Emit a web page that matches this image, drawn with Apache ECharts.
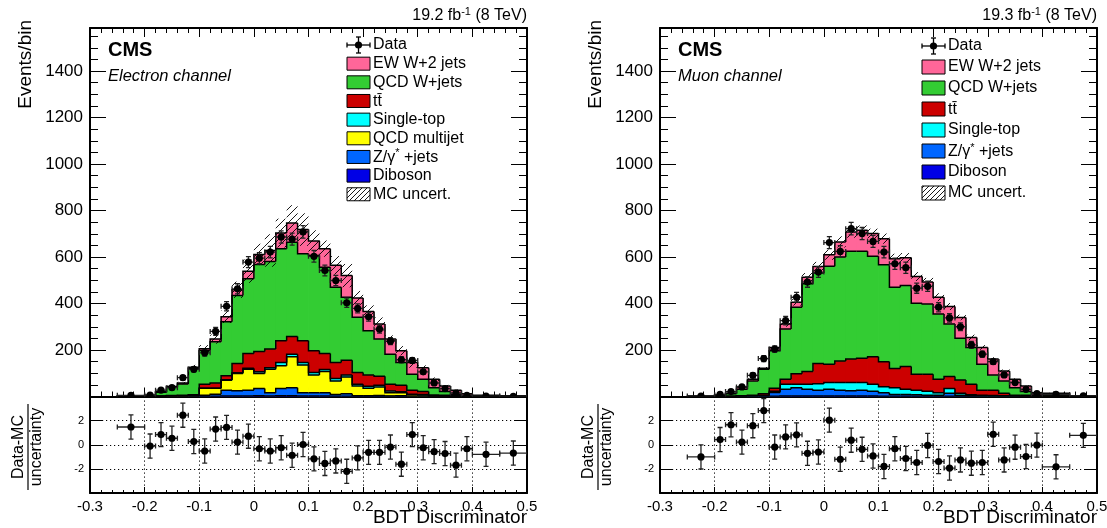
<!DOCTYPE html>
<html><head><meta charset="utf-8">
<script src="https://cdn.jsdelivr.net/npm/echarts@6/dist/echarts.min.js"></script>
<style>html,body{margin:0;padding:0;background:#fff}#c{width:1107px;height:528px}</style>
</head><body><div id="c"></div>
<script>
// ---------------- DATA ----------------
const binEdges = [-0.25,-0.20,-0.18,-0.16,-0.14,-0.12,-0.10,-0.08,-0.06,-0.04,-0.02,0.00,0.02,0.04,0.06,0.08,0.10,0.12,0.14,0.16,0.18,0.20,0.22,0.24,0.26,0.28,0.30,0.32,0.34,0.36,0.38,0.40,0.45,0.50];
const xTickLabels = ['-0.3','-0.2','-0.1','0','0.1','0.2','0.3','0.4','0.5'];

// Electron channel (events per bin)
const elDiboson   = [0,0,0,0,0,0,1,1,2,2,2,3,2,3,3,2,2,2,1,1,1,1,1,1,1,0,0,0,0,0,0,0,0];
const elZjets     = [0,0,0,1,1,2,4,9,25,23,25,31,14,31,35,14,14,14,8,11,2,2,3,1,2,1,1,0,0,0,0,0,0];
const elQCDmj     = [0,0,1,2,2,2,30,25,43,74,90,65,101,98,133,120,77,91,58,72,42,32,37,14,13,7,5,1,1,0,0,0,0];
const elSingleTop = [0,0,0,0,0,0,1,1,2,3,5,7,7,14,11,10,10,9,10,9,8,9,7,8,4,2,3,1,0,1,0,0,0];
const elTTbar     = [0,0,0,1,2,3,17,22,17,40,63,88,80,94,76,94,94,69,69,63,50,49,39,29,28,17,12,4,4,2,2,1,0];
const elWjets     = [2,4,17,36,49,113,145,177,233,292,321,374,377,396,406,374,410,371,324,271,238,190,160,129,98,69,53,32,16,6,2,1,1];
const elEW        = [1,1,2,3,4,6,7,12,21,25,33,43,47,67,82,104,62,80,94,93,83,83,65,65,51,50,50,36,24,18,8,3,1];
const elUnc       = [1,1,3,4,5,10,16,20,27,35,50,46,70,62,77,70,46,35,40,50,30,26,28,16,20,22,10,8,5,3,2,1,1];
const elData      = [5,6,27,38,81,117,188,280,388,463,578,595,621,686,677,708,603,542,499,403,379,343,290,238,158,155,106,58,34,15,5,2,1];
const elDataErr   = [2,2,5,6,9,11,14,17,20,22,24,24,25,26,26,27,25,23,22,20,19,19,17,15,13,12,10,8,6,4,2,1,1];
const elPull      = [1.47,-0.11,0.84,0.54,2.45,0.27,-0.52,1.3,1.44,0.22,0.71,-0.33,-0.52,-0.25,-0.87,0.02,-1.17,-1.55,-1.34,-2.2,-1.09,-0.63,-0.63,-0.19,-1.61,0.84,-0.25,-0.57,-0.73,-1.69,-0.33,-0.79,-0.69];
const elPullErr   = [1,1,1,1,1,1,1,1,1,1,1,1,1,1,1,1,1,1,1,1,1,1,1,1,1,1,1,1,1,1,1,1,1];

// Muon channel
const muDiboson   = [0,0,0,0,0,0,1,2,2,2,2,2,2,2,2,2,1,1,1,1,1,1,1,1,0,0,0,0,0,0,0,0,0];
const muZjets     = [0,0,0,1,2,3,16,29,36,29,25,29,25,23,25,21,15,8,8,6,4,4,13,4,3,2,2,1,1,0,0,0,0];
const muSingleTop = [0,0,0,1,1,2,6,22,15,22,28,29,33,35,33,30,26,29,22,20,18,11,20,9,4,3,2,2,1,1,1,0,0];
const muTTbar     = [0,0,1,1,2,7,12,21,45,54,87,79,93,101,105,118,108,82,98,69,73,58,52,57,46,22,23,11,3,4,1,1,0];
const muWjets     = [0,6,11,28,62,105,162,216,286,378,389,421,447,464,460,432,417,350,348,305,302,281,226,180,158,112,66,53,33,16,4,5,1];
const muEW        = [1,1,2,10,7,5,14,22,21,28,28,50,65,83,90,98,112,123,120,115,94,72,75,89,43,72,68,43,36,24,10,8,1];
const muUnc       = [1,1,2,3,4,5,8,12,14,18,20,22,24,25,21,21,22,21,20,19,18,17,15,12,12,10,8,6,4,3,2,2,1];
const muData      = [2,9,21,41,91,163,204,326,427,492,535,662,624,722,701,667,621,571,554,466,474,384,338,300,222,182,150,93,60,31,12,9,3];
const muDataErr   = [1,3,5,6,10,13,14,18,21,22,23,26,25,27,26,26,25,24,24,22,22,20,18,17,15,13,12,10,8,6,3,3,2];
const muPull      = [-1.01,0.43,1.66,0.22,1.58,2.83,-0.19,0.65,0.82,-0.71,-0.6,2.04,-1.2,0.38,-0.38,-0.93,-1.8,-0.33,-1.14,-1.47,-0.06,-1.39,-1.93,-1.26,-1.53,-1.47,0.87,-1.26,-0.2,-0.98,-0.03,-1.83,0.78];
const muPullErr   = [1,1,1,1,1,1,1,1,1,1,1,1,1,1,1,1,1,1,1,1,1,1,1,1,1,1,1,1,1,1,1,1,1];

const legendLabelsEl = ['Data','EW W+2 jets','QCD W+jets','{a|tt\u0304}','Single-top','QCD multijet','{a|Z/\u03b3}{s|*}{a| +jets}','Diboson','MC uncert.'];
const legendLabelsMu = ['Data','EW W+2 jets','QCD W+jets','{a|tt\u0304}','Single-top','{a|Z/\u03b3}{s|*}{a| +jets}','Diboson','MC uncert.'];
const channelNames = ['Electron channel','Muon channel'];
const lumiTexts = ['19.2','19.3'];

// ---------------- STYLE ----------------
const FONT = "'Liberation Sans', Arial, Helvetica, sans-serif";
const COL = {dib:'#0000e6', z:'#0066ff', qcd:'#ffff00', st:'#00ffff', tt:'#cc0000', wj:'#33cc33', ew:'#ff6699'};
const nb = binEdges.length - 1;

const channels = [
  {layers:[[elDiboson,COL.dib],[elZjets,COL.z],[elQCDmj,COL.qcd],[elSingleTop,COL.st],[elTTbar,COL.tt],[elWjets,COL.wj],[elEW,COL.ew]],
   unc: elUnc, data: elData, err: elDataErr, pull: elPull, pullErr: elPullErr,
   legend: legendLabelsEl, legendColors:[null,COL.ew,COL.wj,COL.tt,COL.st,COL.qcd,COL.z,COL.dib,'hatch'],
   left: 90, legX: 347, legY: 45, legDy: 18.66, legH: 13},
  {layers:[[muDiboson,COL.dib],[muZjets,COL.z],[muSingleTop,COL.st],[muTTbar,COL.tt],[muWjets,COL.wj],[muEW,COL.ew]],
   unc: muUnc, data: muData, err: muDataErr, pull: muPull, pullErr: muPullErr,
   legend: legendLabelsMu, legendColors:[null,COL.ew,COL.wj,COL.tt,COL.st,COL.z,COL.dib,'hatch'],
   left: 660, legX: 922, legY: 46, legDy: 21, legH: 14}
];

const W = 437, TOP = 28, MAINH = 368.5, RTOP = 396.5, RH = 96.5;

const grids = [], xAxes = [], yAxes = [], series = [], graphics = [];

function hatchLines(x0, y0, x1, y1, s, lw) {
  const out = [];
  const cStart = Math.ceil((x0 + y0) / s) * s;
  for (let c = cStart; c <= x1 + y1; c += s) {
    const xa = Math.max(x0, c - y1), xb = Math.min(x1, c - y0);
    if (xb > xa) out.push({type:'line', shape:{x1:xa, y1:c - xa, x2:xb, y2:c - xb}, style:{stroke:'#000', lineWidth:lw}});
  }
  return out;
}

function tickFmt(v) {
  const r = Math.round(v * 10) / 10;
  return r === 0 ? '0' : String(r);
}

channels.forEach((ch, p) => {
  const gm = 2 * p, gr = 2 * p + 1;
  grids.push({left: ch.left, top: TOP, width: W, height: MAINH, containLabel:false, outerBoundsMode:'none'});
  grids.push({left: ch.left, top: RTOP, width: W, height: RH, containLabel:false, outerBoundsMode:'none'});
  const axLine = {show:true, onZero:false, lineStyle:{color:'#000', width:2}};
  [ 'bottom', 'top' ].forEach(pos => xAxes.push({
    type:'value', gridIndex: gm, position: pos, min:-0.3, max:0.5, interval:0.1,
    axisLine: axLine, axisLabel:{show:false}, splitLine:{show:false},
    axisTick:{show:true, inside:true, length:9, lineStyle:{color:'#000', width:1}},
    minorTick:{show:true, splitNumber:5, length:5, lineStyle:{color:'#000', width:1}}
  }));
  xAxes.push({
    type:'value', gridIndex: gr, position:'bottom', min:-0.3, max:0.5, interval:0.1,
    axisLine: axLine,
    axisLabel:{show:true, fontFamily:FONT, fontSize:15, color:'#000', margin:6, formatter: v => { const r = Math.round((v + 0.3) * 10); return xTickLabels[r] !== undefined ? xTickLabels[r] : tickFmt(v); }},
    splitLine:{show:true, lineStyle:{color:'#000', type:[1.2,2.8], width:1}},
    axisTick:{show:true, inside:true, length:6, lineStyle:{color:'#000', width:1}},
    minorTick:{show:true, splitNumber:5, length:3, lineStyle:{color:'#000', width:1}}
  });
  xAxes.push({
    type:'value', gridIndex: gr, position:'top', min:-0.3, max:0.5, interval:0.1,
    axisLine: axLine, axisLabel:{show:false}, splitLine:{show:false}, axisTick:{show:false}
  });
  ['left','right'].forEach(pos => yAxes.push({
    type:'value', gridIndex: gm, position: pos, min:0, max:1585, interval:200,
    axisLine: axLine,
    axisLabel:{show: pos === 'left', fontFamily:FONT, fontSize:17, color:'#000', margin:7, showMaxLabel:false,
      formatter: v => (v > 0 && v <= 1400 && v % 200 === 0) ? String(v) : ''},
    splitLine:{show:false},
    axisTick:{show:true, inside:true, length:16, lineStyle:{color:'#000', width:1}},
    minorTick:{show:true, splitNumber:4, length:8, lineStyle:{color:'#000', width:1}}
  }));
  ['left','right'].forEach(pos => yAxes.push({
    type:'value', gridIndex: gr, position: pos, min:-4, max:4, interval:2,
    axisLine: axLine,
    axisLabel:{show: pos === 'left', fontFamily:FONT, fontSize:11, color:'#000', margin:6,
      formatter: v => (Math.abs(v) === 2 || v === 0) ? String(v) : ''},
    splitLine:{show: pos === 'left', lineStyle:{color:'#000', type:[1.2,2.8], width:1}},
    axisTick:{show:true, inside:true, length:12, lineStyle:{color:'#000', width:1}}
  }));

  const xi = 2 * gm, yi = 2 * gm, xr = 2 * gr, yr = 2 * gr;

  const cum = new Array(nb).fill(0);
  ch.layers.forEach(([arr, color]) => {
    const rows = []; let prevTop = 0;
    for (let i = 0; i < nb; i++) {
      const bot = cum[i], top = bot + arr[i];
      rows.push([binEdges[i], binEdges[i + 1], bot, top, prevTop]);
      prevTop = top; cum[i] = top;
    }
    series.push({
      type:'custom', xAxisIndex: xi, yAxisIndex: yi, clip:true, z:2, silent:true,
      data: rows, encode:{x:[0,1], y:[2,3]},
      renderItem: (params, api) => {
        const xlo = api.value(0), xhi = api.value(1), bot = api.value(2), top = api.value(3), prev = api.value(4);
        const a = api.coord([xlo, top]), b = api.coord([xhi, bot]), c = api.coord([xlo, prev]);
        const children = [];
        if (b[1] - a[1] > 0.05) children.push({type:'rect', z2:1, shape:{x:a[0] - 0.4, y:a[1], width:b[0] - a[0] + 0.8, height:b[1] - a[1] + 0.3}, style:{fill:color}});
        children.push({type:'polyline', z2:10, shape:{points:[[c[0], c[1]], [a[0], a[1]], [b[0], a[1]]]}, style:{stroke:'#000', lineWidth:1.5, fill:null}});
        return {type:'group', children};
      }
    });
  });
  const hrows = [];
  for (let i = 0; i < nb; i++) hrows.push([binEdges[i], binEdges[i + 1], Math.max(0, cum[i] - ch.unc[i]), cum[i] + ch.unc[i]]);
  series.push({
    type:'custom', xAxisIndex: xi, yAxisIndex: yi, clip:true, z:3, silent:true,
    data: hrows, encode:{x:[0,1], y:[2,3]},
    renderItem: (params, api) => {
      const a = api.coord([api.value(0), api.value(3)]), b = api.coord([api.value(1), api.value(2)]);
      return {type:'group', children: hatchLines(a[0], a[1], b[0], b[1], 7, 0.9)};
    }
  });
  function pointSeries(vals, errs, xIdx, yIdx) {
    const rows = [];
    for (let i = 0; i < nb; i++) rows.push([(binEdges[i] + binEdges[i + 1]) / 2, vals[i], binEdges[i], binEdges[i + 1], errs[i]]);
    return {
      type:'custom', xAxisIndex: xIdx, yAxisIndex: yIdx, clip:true, z:5, silent:true,
      data: rows, encode:{x:[0,2,3], y:1},
      renderItem: (params, api) => {
        const xc = api.value(0), y = api.value(1), xlo = api.value(2), xhi = api.value(3), e = api.value(4);
        const pc = api.coord([xc, y]), l = api.coord([xlo, y]), r = api.coord([xhi, y]);
        const t = api.coord([xc, y + e]), bo = api.coord([xc, y - e]);
        const st = {stroke:'#222', lineWidth:1.3};
        const cap = 2.5;
        return {type:'group', children:[
          {type:'line', shape:{x1:l[0], y1:pc[1], x2:r[0], y2:pc[1]}, style:st},
          {type:'line', shape:{x1:pc[0], y1:t[1], x2:pc[0], y2:bo[1]}, style:st},
          {type:'line', shape:{x1:l[0], y1:pc[1] - cap, x2:l[0], y2:pc[1] + cap}, style:st},
          {type:'line', shape:{x1:r[0], y1:pc[1] - cap, x2:r[0], y2:pc[1] + cap}, style:st},
          {type:'line', shape:{x1:pc[0] - cap, y1:t[1], x2:pc[0] + cap, y2:t[1]}, style:st},
          {type:'line', shape:{x1:pc[0] - cap, y1:bo[1], x2:pc[0] + cap, y2:bo[1]}, style:st},
          {type:'circle', shape:{cx:pc[0], cy:pc[1], r:3.6}, style:{fill:'#000'}}
        ]};
      }
    };
  }
  series.push(pointSeries(ch.data, ch.err, xi, yi));
  series.push(pointSeries(ch.pull, ch.pullErr, xr, yr));

  const L = ch.left, R = ch.left + W;
  graphics.push({type:'text', x:R, y:15, style:{text:'{a|' + lumiTexts[p] + ' fb}{s|-1}{a| (8 TeV)}', align:'right', verticalAlign:'middle',
    rich:{a:{fontFamily:FONT, fontSize:16, fill:'#000', verticalAlign:'bottom', lineHeight:18}, s:{fontFamily:FONT, fontSize:11, fill:'#000', verticalAlign:'top', lineHeight:18}}}});
  graphics.push({type:'text', x:L + 18, y:50, style:{text:'CMS', font:'bold 20px ' + FONT, fill:'#000', verticalAlign:'middle'}});
  graphics.push({type:'text', x:L + 18, y:76, style:{text:channelNames[p], font:'italic 16.5px ' + FONT, fill:'#000', verticalAlign:'middle'}});
  graphics.push({type:'text', x:L - 64, y:20, rotation:Math.PI / 2, style:{text:'Events/bin', font:'19px ' + FONT, fill:'#000', align:'right', verticalAlign:'middle'}});
  graphics.push({type:'text', x:L - 71, y:447, rotation:Math.PI / 2, style:{text:'Data-MC', font:'16px ' + FONT, fill:'#000', align:'center', verticalAlign:'middle'}});
  graphics.push({type:'line', shape:{x1:L - 62, y1:404, x2:L - 62, y2:490}, style:{stroke:'#000', lineWidth:1.2}});
  graphics.push({type:'text', x:L - 53, y:447, rotation:Math.PI / 2, style:{text:'uncertainty', font:'16px ' + FONT, fill:'#000', align:'center', verticalAlign:'middle'}});
  graphics.push({type:'text', x:R, y:518, style:{text:'BDT Discriminator', font:'19px ' + FONT, fill:'#000', align:'right', verticalAlign:'middle'}});

  const bw = 23, bh = ch.legH;
  ch.legend.forEach((lab, i) => {
    const yc = ch.legY + ch.legDy * i;
    const x0 = ch.legX;
    const kind = ch.legendColors[i];
    if (kind === null) {
      const cx = x0 + bw / 2;
      const st = {stroke:'#000', lineWidth:1.3};
      graphics.push({type:'line', shape:{x1:x0, y1:yc, x2:x0 + bw, y2:yc}, style:st});
      graphics.push({type:'line', shape:{x1:cx, y1:yc - 8, x2:cx, y2:yc + 8}, style:st});
      graphics.push({type:'line', shape:{x1:cx - 2.5, y1:yc - 8, x2:cx + 2.5, y2:yc - 8}, style:st});
      graphics.push({type:'line', shape:{x1:cx - 2.5, y1:yc + 8, x2:cx + 2.5, y2:yc + 8}, style:st});
      graphics.push({type:'line', shape:{x1:x0, y1:yc - 2.5, x2:x0, y2:yc + 2.5}, style:st});
      graphics.push({type:'line', shape:{x1:x0 + bw, y1:yc - 2.5, x2:x0 + bw, y2:yc + 2.5}, style:st});
      graphics.push({type:'circle', shape:{cx:cx, cy:yc, r:3.6}, style:{fill:'#000'}});
    } else if (kind === 'hatch') {
      graphics.push({type:'group', children: hatchLines(x0, yc - bh / 2, x0 + bw, yc + bh / 2, 5, 0.9)});
      graphics.push({type:'rect', shape:{x:x0, y:yc - bh / 2, width:bw, height:bh}, style:{fill:null, stroke:'#000', lineWidth:1}});
    } else {
      graphics.push({type:'rect', shape:{x:x0, y:yc - bh / 2, width:bw, height:bh}, style:{fill:kind, stroke:'#000', lineWidth:1}});
    }
    graphics.push({type:'text', x:x0 + bw + 3, y:yc, style:{text:lab, font:'16px ' + FONT, fill:'#000', verticalAlign:'middle',
      rich:{a:{fontFamily:FONT, fontSize:16, fill:'#000', verticalAlign:'bottom', lineHeight:18}, s:{fontFamily:FONT, fontSize:11, fill:'#000', verticalAlign:'top', lineHeight:18}}}});
  });
});

const chart = echarts.init(document.getElementById('c'), null, {renderer:'canvas'});
chart.setOption({
  animation:false,
  backgroundColor:'#fff',
  textStyle:{fontFamily:FONT},
  grid: grids, xAxis: xAxes, yAxis: yAxes, series: series,
  graphic: graphics
});
</script>
</body></html>
